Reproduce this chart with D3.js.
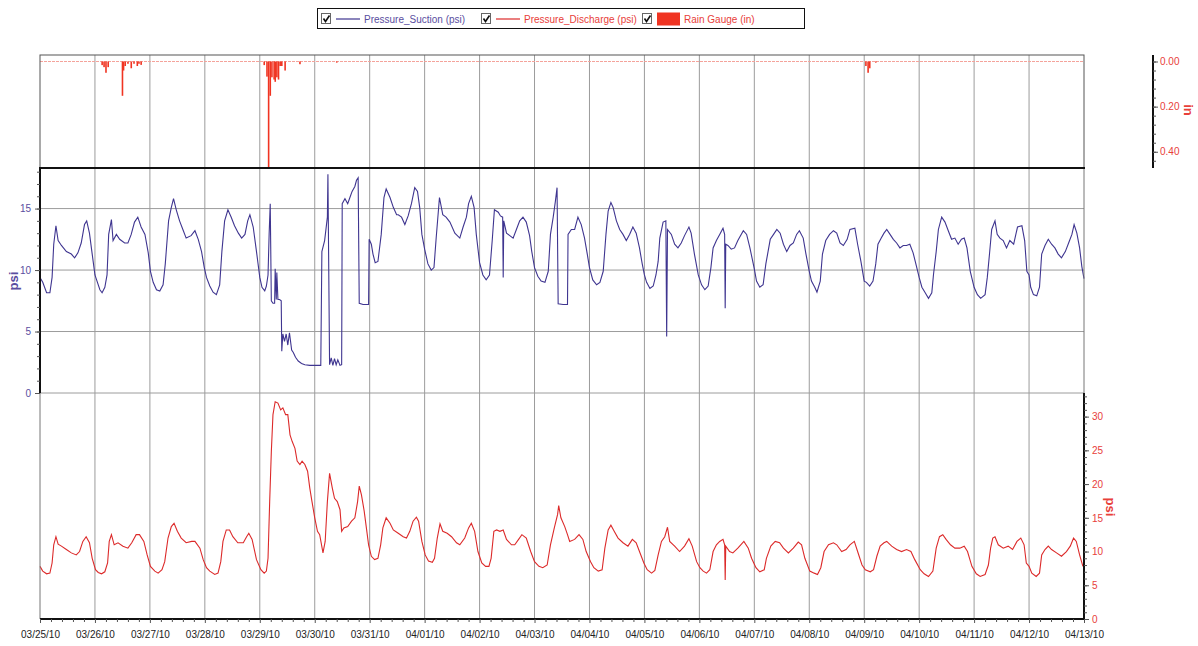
<!DOCTYPE html>
<html>
<head>
<meta charset="utf-8">
<script src="https://cdnjs.cloudflare.com/ajax/libs/d3/7.8.5/d3.min.js"></script>
<style>
  body { margin: 0; background: #fff; }
  svg { display: block; font-family: "Liberation Sans", Arial, sans-serif; }
</style>
</head>
<body>
<div id="chart"></div>
<script>
// Pump station pressures + rain gauge, 03/25/10 - 04/13/10
(function() {
  'use strict';

  // time is in days since 03/25/10 00:00
  var startDate = new Date(2010, 2, 25);
  var endDate = new Date(2010, 3, 13);

  var suction = [
    [0.00,9.4],[0.05,9.0],[0.12,8.15],[0.18,8.15],[0.22,9.4],[0.25,12.1],[0.29,13.6],[0.33,12.4],[0.39,12.0],[0.48,11.5],[0.57,11.3],[0.63,11.0],[0.69,11.4],[0.75,12.2],[0.81,13.7],[0.85,14.0],[0.90,13.0],[0.95,11.3],[1.00,9.6],
    [1.03,9.2],[1.09,8.4],[1.13,8.15],[1.18,8.6],[1.22,9.6],[1.25,12.9],[1.30,14.1],[1.33,12.4],[1.39,12.9],[1.45,12.5],[1.54,12.2],[1.60,12.2],[1.66,12.9],[1.72,13.9],[1.78,14.3],[1.84,13.5],[1.91,12.9],[1.97,11.4],[2.01,9.9],
    [2.06,9.0],[2.12,8.4],[2.18,8.3],[2.24,8.8],[2.28,10.5],[2.34,14.0],[2.39,15.1],[2.43,15.8],[2.48,14.9],[2.54,14.0],[2.60,13.3],[2.66,12.6],[2.75,12.8],[2.82,13.2],[2.88,12.5],[2.94,11.5],[2.99,10.2],
    [3.03,9.4],[3.09,8.7],[3.15,8.2],[3.21,8.0],[3.27,8.8],[3.31,11.5],[3.36,14.0],[3.42,14.9],[3.48,14.3],[3.54,13.6],[3.61,13.0],[3.67,12.6],[3.73,12.9],[3.78,14.0],[3.82,14.5],[3.88,13.5],[3.94,11.5],[4.00,9.4],
    [4.04,8.6],[4.09,8.3],[4.12,8.7],[4.15,9.6],[4.17,12.9],[4.19,15.4],[4.21,7.5],[4.24,7.3],[4.27,7.3],[4.28,10.1],[4.30,7.6],[4.31,9.8],[4.33,7.6],[4.36,7.6],[4.39,7.5],[4.40,3.4],[4.42,4.8],[4.45,4.2],[4.48,4.8],[4.51,3.9],[4.54,4.9],[4.58,3.5],[4.61,3.3],[4.65,2.9],[4.70,2.6],[4.76,2.4],[4.82,2.3],[4.91,2.25],[5.01,2.25],
    [5.11,2.25],[5.13,11.5],[5.18,12.4],[5.23,14.3],[5.24,17.8],[5.27,2.3],[5.30,2.85],[5.33,2.25],[5.36,2.8],[5.39,2.3],[5.42,2.7],[5.46,2.25],[5.49,2.3],[5.50,15.4],[5.55,15.8],[5.60,15.4],[5.64,15.9],[5.68,16.4],[5.73,16.8],[5.76,17.3],[5.79,17.5],[5.81,7.3],[5.88,7.2],[5.98,7.2],[5.99,12.5],
    [6.03,12.1],[6.06,11.3],[6.10,10.6],[6.15,10.7],[6.21,12.9],[6.26,15.9],[6.30,16.6],[6.37,15.9],[6.43,15.1],[6.49,14.5],[6.52,14.5],[6.58,14.3],[6.64,13.7],[6.70,14.4],[6.76,15.4],[6.82,16.7],[6.87,16.4],[6.91,15.1],[6.95,12.9],[7.00,11.7],
    [7.06,10.5],[7.12,10.0],[7.17,10.2],[7.21,12.6],[7.27,15.9],[7.33,14.5],[7.39,14.3],[7.46,13.9],[7.55,13.0],[7.64,12.6],[7.70,13.5],[7.76,14.3],[7.80,15.4],[7.85,16.0],[7.90,15.1],[7.94,12.9],[8.00,10.6],
    [8.06,9.6],[8.12,9.2],[8.18,9.6],[8.23,12.4],[8.27,14.9],[8.34,14.7],[8.38,14.4],[8.42,14.3],[8.43,9.4],[8.44,14.0],[8.49,13.0],[8.55,12.8],[8.61,12.6],[8.67,13.3],[8.73,14.0],[8.79,14.3],[8.85,13.9],[8.91,12.8],[8.95,11.5],[9.00,10.2],
    [9.06,9.5],[9.12,9.1],[9.19,9.0],[9.25,9.9],[9.29,12.9],[9.34,14.3],[9.38,15.6],[9.41,16.7],[9.43,7.25],[9.52,7.2],[9.60,7.2],[9.61,12.9],[9.67,13.3],[9.73,13.3],[9.79,14.3],[9.85,13.7],[9.91,12.6],[9.96,11.3],[10.00,10.2],
    [10.06,9.2],[10.13,8.8],[10.19,9.0],[10.25,9.9],[10.30,12.9],[10.34,14.8],[10.39,15.5],[10.43,15.1],[10.49,14.0],[10.55,13.3],[10.61,12.9],[10.67,12.4],[10.73,12.9],[10.79,13.5],[10.85,13.0],[10.91,11.8],[10.96,10.5],[11.00,9.6],
    [11.04,9.0],[11.10,8.5],[11.16,8.7],[11.21,9.6],[11.25,10.7],[11.28,12.6],[11.34,13.9],[11.39,14.0],[11.405,4.6],[11.42,13.3],[11.49,12.9],[11.55,12.1],[11.61,11.8],[11.67,12.2],[11.73,12.8],[11.81,13.5],[11.85,13.0],[11.91,11.3],[11.98,9.6],
    [12.04,8.8],[12.10,8.4],[12.16,8.7],[12.21,10.2],[12.25,11.8],[12.31,12.4],[12.37,12.9],[12.43,13.4],[12.46,12.9],[12.47,6.9],[12.48,12.1],[12.52,12.0],[12.58,11.7],[12.64,11.8],[12.70,12.4],[12.80,13.2],[12.86,12.9],[12.92,11.8],[13.00,10.1],
    [13.04,9.1],[13.10,8.6],[13.16,8.8],[13.21,10.5],[13.29,12.5],[13.35,12.9],[13.41,13.3],[13.47,13.0],[13.53,12.1],[13.59,11.5],[13.65,12.0],[13.71,12.2],[13.77,12.9],[13.82,13.2],[13.89,12.6],[13.94,11.3],[14.00,9.9],
    [14.04,9.1],[14.10,8.6],[14.14,8.2],[14.20,9.1],[14.24,11.3],[14.30,12.4],[14.37,12.9],[14.44,13.2],[14.50,13.0],[14.56,12.2],[14.62,12.0],[14.69,12.5],[14.74,13.3],[14.83,13.4],[14.88,12.1],[14.94,10.7],[15.00,9.1],
    [15.04,9.0],[15.10,8.7],[15.16,9.1],[15.21,10.5],[15.25,12.1],[15.31,12.6],[15.36,13.0],[15.41,13.3],[15.47,12.9],[15.53,12.5],[15.59,12.2],[15.65,11.8],[15.71,12.0],[15.77,12.0],[15.83,12.1],[15.89,11.4],[15.94,10.5],[16.00,9.4],
    [16.05,8.6],[16.11,8.15],[16.17,7.7],[16.23,8.15],[16.26,9.6],[16.31,11.5],[16.35,13.3],[16.41,14.3],[16.47,13.9],[16.53,13.2],[16.59,12.5],[16.65,12.6],[16.71,12.1],[16.77,12.5],[16.82,12.6],[16.87,11.8],[16.93,9.9],[17.00,8.6],
    [17.06,8.0],[17.12,7.7],[17.20,8.0],[17.24,9.4],[17.28,11.3],[17.32,13.3],[17.38,14.0],[17.42,12.9],[17.47,12.6],[17.53,12.4],[17.59,11.8],[17.65,12.4],[17.72,12.1],[17.79,13.5],[17.87,13.6],[17.92,12.4],[17.96,9.9],[18.00,9.6],
    [18.03,8.6],[18.08,8.0],[18.14,7.9],[18.19,8.6],[18.23,11.3],[18.29,12.0],[18.35,12.5],[18.41,12.1],[18.47,11.8],[18.53,11.3],[18.59,11.0],[18.66,11.5],[18.72,12.2],[18.78,12.9],[18.82,13.7],[18.87,13.0],[18.92,11.8],[18.96,10.3],[19.00,9.3]
  ];

  var discharge = [
    [0.00,7.8],[0.05,7.1],[0.12,6.7],[0.18,6.8],[0.22,8.3],[0.25,11.0],[0.29,12.2],[0.33,11.1],[0.39,10.8],[0.48,10.3],[0.57,9.8],[0.66,9.5],[0.72,10.0],[0.78,11.5],[0.84,12.2],[0.90,11.3],[0.95,9.0],[1.01,7.3],
    [1.06,6.9],[1.12,6.7],[1.18,7.0],[1.23,8.3],[1.26,11.5],[1.30,12.5],[1.35,11.0],[1.42,11.3],[1.51,10.8],[1.60,10.5],[1.67,11.3],[1.75,12.5],[1.81,12.5],[1.89,11.5],[1.95,9.5],[2.01,7.8],
    [2.09,7.1],[2.15,6.8],[2.22,7.3],[2.27,8.5],[2.33,12.0],[2.39,13.7],[2.44,14.2],[2.50,13.0],[2.57,12.0],[2.66,11.3],[2.76,11.5],[2.82,11.5],[2.91,10.5],[2.97,8.8],[3.03,7.6],
    [3.09,7.1],[3.18,6.6],[3.24,6.8],[3.29,8.5],[3.33,11.5],[3.39,13.2],[3.45,13.2],[3.51,12.2],[3.60,11.3],[3.70,11.3],[3.76,12.2],[3.80,12.7],[3.86,11.8],[3.94,8.8],[4.02,7.3],
    [4.08,6.8],[4.12,7.1],[4.15,9.0],[4.18,17.4],[4.21,24.8],[4.24,30.3],[4.28,32.2],[4.33,32.0],[4.38,31.0],[4.42,31.3],[4.47,30.3],[4.51,30.3],[4.55,27.3],[4.59,26.3],[4.64,25.3],[4.68,23.4],[4.73,22.9],[4.77,23.4],[4.82,22.9],[4.87,21.9],[4.91,19.4],[4.95,17.4],[5.00,15.0],
    [5.05,13.0],[5.09,12.5],[5.15,9.8],[5.19,11.5],[5.23,17.4],[5.27,21.6],[5.32,19.4],[5.36,17.9],[5.41,17.4],[5.46,16.2],[5.49,13.0],[5.53,13.5],[5.60,13.7],[5.67,14.5],[5.73,15.0],[5.78,17.4],[5.81,19.7],[5.85,18.4],[5.90,16.0],[5.94,13.5],[5.98,11.0],[6.03,9.3],
    [6.09,8.8],[6.15,9.0],[6.20,11.0],[6.24,13.5],[6.30,15.0],[6.37,14.2],[6.43,13.2],[6.52,12.7],[6.61,12.2],[6.67,12.0],[6.73,13.0],[6.79,14.5],[6.85,15.1],[6.89,14.5],[6.95,11.5],[7.01,9.5],
    [7.07,8.6],[7.14,8.4],[7.18,9.0],[7.23,12.0],[7.28,14.1],[7.33,13.0],[7.41,12.7],[7.49,12.2],[7.58,11.3],[7.64,11.0],[7.73,12.0],[7.80,13.5],[7.85,14.2],[7.91,13.0],[7.97,10.0],[8.04,8.3],
    [8.11,7.8],[8.17,7.8],[8.21,9.0],[8.26,13.0],[8.31,13.2],[8.37,13.0],[8.43,13.2],[8.49,11.8],[8.58,11.0],[8.64,11.0],[8.71,11.8],[8.77,12.5],[8.85,12.0],[8.93,10.0],[9.00,8.5],
    [9.08,7.8],[9.15,7.6],[9.23,8.0],[9.29,11.0],[9.36,13.5],[9.42,15.5],[9.44,16.8],[9.48,15.0],[9.55,13.7],[9.60,12.5],[9.64,11.5],[9.73,11.8],[9.81,12.5],[9.88,11.8],[9.94,10.0],[10.02,8.5],
    [10.08,7.6],[10.16,7.1],[10.23,7.3],[10.28,10.5],[10.34,13.2],[10.39,13.9],[10.45,13.0],[10.52,12.0],[10.61,11.3],[10.70,10.8],[10.78,11.8],[10.85,11.3],[10.91,10.0],[10.99,8.3],
    [11.05,7.3],[11.13,6.8],[11.19,7.2],[11.25,9.5],[11.31,11.5],[11.37,12.2],[11.42,13.6],[11.46,11.5],[11.55,10.8],[11.64,10.0],[11.73,10.8],[11.81,11.9],[11.87,10.8],[11.95,8.5],[12.01,7.6],
    [12.07,7.1],[12.13,6.8],[12.19,7.3],[12.25,10.0],[12.31,11.0],[12.37,11.5],[12.43,11.8],[12.46,11.0],[12.47,5.8],[12.48,10.8],[12.55,10.0],[12.61,9.8],[12.70,10.5],[12.81,11.5],[12.89,10.5],[12.95,9.0],[13.03,7.6],
    [13.10,7.0],[13.18,7.3],[13.22,9.0],[13.30,10.8],[13.38,11.5],[13.46,11.3],[13.53,10.5],[13.62,9.8],[13.71,10.5],[13.80,11.4],[13.86,11.0],[13.92,9.0],[14.01,7.1],
    [14.09,6.8],[14.15,6.6],[14.21,7.6],[14.27,10.0],[14.35,11.0],[14.44,11.3],[14.50,11.0],[14.59,10.0],[14.67,10.3],[14.74,11.0],[14.82,11.5],[14.88,10.0],[14.96,8.0],[15.02,7.3],
    [15.11,7.0],[15.17,7.3],[15.23,9.3],[15.29,10.8],[15.36,11.3],[15.41,11.5],[15.50,10.8],[15.59,10.3],[15.68,10.0],[15.77,10.3],[15.85,10.0],[15.92,8.8],[16.02,7.3],
    [16.09,6.7],[16.17,6.3],[16.25,7.1],[16.31,10.5],[16.37,12.2],[16.43,12.5],[16.49,11.8],[16.57,11.0],[16.65,10.5],[16.74,10.5],[16.82,10.8],[16.88,10.0],[16.96,7.8],[17.04,6.7],
    [17.11,6.3],[17.20,6.6],[17.26,8.0],[17.30,10.5],[17.34,12.0],[17.38,12.2],[17.44,11.0],[17.53,10.5],[17.62,10.8],[17.70,10.3],[17.78,11.5],[17.85,12.0],[17.91,11.0],[17.95,8.3],[18.00,7.8],
    [18.05,6.8],[18.13,6.3],[18.19,6.8],[18.23,9.5],[18.29,10.3],[18.35,10.8],[18.41,10.3],[18.50,9.8],[18.59,9.3],[18.68,10.0],[18.75,10.8],[18.81,12.0],[18.86,11.5],[18.92,9.5],[18.98,7.8]
  ];

  var rain = [
    [1.13,0.016],[1.165,0.025],[1.20,0.05],[1.24,0.025],[1.50,0.152],[1.52,0.04],[1.55,0.02],[1.60,0.01],[1.66,0.03],[1.71,0.01],[1.77,0.02],[1.80,0.01],[1.84,0.015],
    [4.08,0.016],[4.13,0.067],[4.16,0.47],[4.19,0.152],[4.22,0.07],[4.26,0.08],[4.28,0.09],[4.31,0.07],[4.34,0.08],[4.37,0.02],[4.40,0.02],[4.46,0.04],[4.73,0.012],[5.40,0.005],
    [15.03,0.02],[15.07,0.05],[15.10,0.03],[15.21,0.005]
  ];

  var suctionTicks = [0, 5, 10, 15];
  var dischargeTicks = [0, 5, 10, 15, 20, 25, 30];
  var rainTicks = [0, 0.2, 0.4];

  var colSuction = '#3f3590', colDischarge = '#dc2a2a', colRain = '#f03422';
  var txtSuction = '#5a4ea0', txtRed = '#e8403a';

  var W = 1198, H = 646;
  var left = 40, right = 1084;
  var rainTop = 55, mainTop = 168, midY = 393, bottom = 619;

  var svg = d3.select('#chart').append('svg').attr('width', W).attr('height', H);

  function toDate(t) { return new Date(startDate.getTime() + t * 864e5); }

  var x = d3.scaleTime().domain([startDate, endDate]).range([left, right]);
  var yRain = d3.scaleLinear().domain([0, 0.472]).range([61.5, mainTop]);
  var ySuc = d3.scaleLinear().domain([0, 18.3]).range([midY, mainTop]);
  var yDis = d3.scaleLinear().domain([0, 33.5]).range([bottom, midY]);

  var days = d3.timeDay.range(startDate, d3.timeDay.offset(endDate, 1));
  var minorDays = [];
  days.slice(0, -1).forEach(function(d) {
    for (var k = 1; k < 5; k++) minorDays.push(new Date(d.getTime() + k * 0.2 * 864e5));
  });

  // grid
  var grid = svg.append('g');
  grid.selectAll('.vg').data(days.slice(1, -1)).enter().append('line')
    .attr('x1', function(d) { return x(d); }).attr('x2', function(d) { return x(d); })
    .attr('y1', rainTop).attr('y2', bottom)
    .attr('stroke', '#9c9c9c').attr('stroke-width', 1);
  grid.selectAll('.hg').data(suctionTicks).enter().append('line')
    .attr('x1', left).attr('x2', right)
    .attr('y1', function(d) { return ySuc(d); }).attr('y2', function(d) { return ySuc(d); })
    .attr('stroke', '#9c9c9c').attr('stroke-width', 1);

  // rain zero line (faint red)
  svg.append('line').attr('x1', left).attr('x2', right).attr('y1', yRain(0)).attr('y2', yRain(0))
    .attr('stroke', '#f4a39b').attr('stroke-width', 1).attr('stroke-dasharray', '3,1');

  // rain bars
  svg.selectAll('.rain').data(rain).enter().append('rect')
    .attr('x', function(d) { return x(toDate(d[0])) - 0.75; })
    .attr('width', 1.6)
    .attr('y', yRain(0))
    .attr('height', function(d) { return yRain(d[1]) - yRain(0); })
    .attr('fill', colRain);

  // lines
  var lineSuc = d3.line().x(function(d) { return x(toDate(d[0])); }).y(function(d) { return ySuc(d[1]); });
  var lineDis = d3.line().x(function(d) { return x(toDate(d[0])); }).y(function(d) { return yDis(d[1]); });
  svg.append('path').datum(suction).attr('d', lineSuc).attr('fill', 'none')
    .attr('stroke', colSuction).attr('stroke-width', 1.1);
  svg.append('path').datum(discharge).attr('d', lineDis).attr('fill', 'none')
    .attr('stroke', colDischarge).attr('stroke-width', 1.1);

  // frame
  svg.append('rect').attr('x', left).attr('y', rainTop).attr('width', right - left).attr('height', mainTop - rainTop)
    .attr('fill', 'none').attr('stroke', '#555').attr('stroke-width', 1);
  svg.append('line').attr('x1', right).attr('x2', right).attr('y1', mainTop).attr('y2', midY)
    .attr('stroke', '#777').attr('stroke-width', 1);
  svg.append('line').attr('x1', left).attr('x2', left).attr('y1', midY).attr('y2', bottom)
    .attr('stroke', '#777').attr('stroke-width', 1);
  svg.append('line').attr('x1', left - 1).attr('x2', right + 1).attr('y1', mainTop).attr('y2', mainTop)
    .attr('stroke', '#111').attr('stroke-width', 2);
  svg.append('line').attr('x1', left).attr('x2', left).attr('y1', mainTop).attr('y2', midY)
    .attr('stroke', '#111').attr('stroke-width', 2);
  svg.append('line').attr('x1', right).attr('x2', right).attr('y1', midY).attr('y2', bottom)
    .attr('stroke', '#111').attr('stroke-width', 2);
  svg.append('line').attr('x1', left).attr('x2', right + 1).attr('y1', bottom).attr('y2', bottom)
    .attr('stroke', '#111').attr('stroke-width', 2);

  function styleAxis(g, color) {
    g.select('.domain').remove();
    g.selectAll('.tick line').attr('stroke', '#555');
    g.selectAll('.tick text').attr('fill', color).attr('font-size', '10px')
      .attr('font-family', '"Liberation Sans", Arial, sans-serif');
  }

  // x axis
  var gx = svg.append('g').attr('transform', 'translate(0,' + bottom + ')')
    .call(d3.axisBottom(x).tickValues(days).tickSize(4).tickPadding(8).tickFormat(d3.timeFormat('%m/%d/%y')));
  styleAxis(gx, '#222');
  var gxm = svg.append('g').attr('transform', 'translate(0,' + bottom + ')')
    .call(d3.axisBottom(x).tickValues(minorDays).tickSize(3).tickFormat(''));
  styleAxis(gxm, '#222');

  // suction axis (left)
  var gs = svg.append('g').attr('transform', 'translate(' + left + ',0)')
    .call(d3.axisLeft(ySuc).tickValues(suctionTicks).tickSize(5).tickPadding(4));
  styleAxis(gs, txtSuction);
  var gsm = svg.append('g').attr('transform', 'translate(' + left + ',0)')
    .call(d3.axisLeft(ySuc).tickValues(d3.range(0, 19)).tickSize(3).tickFormat(''));
  styleAxis(gsm, txtSuction);
  svg.append('text').attr('transform', 'translate(18,' + 281 + ') rotate(-90)')
    .attr('text-anchor', 'middle').attr('font-size', '13px').attr('font-weight', 'bold')
    .attr('fill', txtSuction).text('psi');

  // discharge axis (right)
  var gd = svg.append('g').attr('transform', 'translate(' + right + ',0)')
    .call(d3.axisRight(yDis).tickValues(dischargeTicks).tickSize(5).tickPadding(3));
  styleAxis(gd, txtRed);
  var gdm = svg.append('g').attr('transform', 'translate(' + right + ',0)')
    .call(d3.axisRight(yDis).tickValues(d3.range(0, 34)).tickSize(3).tickFormat(''));
  styleAxis(gdm, txtRed);
  svg.append('text').attr('transform', 'translate(1106,' + 507 + ') rotate(90)')
    .attr('text-anchor', 'middle').attr('font-size', '13px').attr('font-weight', 'bold')
    .attr('fill', txtRed).text('psi');

  // rain axis (detached, right)
  var rainAxisX = 1153;
  svg.append('line').attr('x1', rainAxisX).attr('x2', rainAxisX).attr('y1', rainTop).attr('y2', mainTop)
    .attr('stroke', '#111').attr('stroke-width', 2);
  var gr = svg.append('g').attr('transform', 'translate(' + rainAxisX + ',0)')
    .call(d3.axisRight(yRain).tickValues(rainTicks).tickSize(5).tickPadding(2).tickFormat(d3.format('.2f')));
  styleAxis(gr, txtRed);
  var grm = svg.append('g').attr('transform', 'translate(' + rainAxisX + ',0)')
    .call(d3.axisRight(yRain).tickValues(d3.range(0, 0.47, 0.04)).tickSize(3).tickFormat(''));
  styleAxis(grm, txtRed);
  svg.append('text').attr('transform', 'translate(1184,' + 110 + ') rotate(90)')
    .attr('text-anchor', 'middle').attr('font-size', '13px').attr('font-weight', 'bold')
    .attr('fill', txtRed).text('in');

  // legend
  var legend = svg.append('g');
  legend.append('rect').attr('x', 317.5).attr('y', 8.5).attr('width', 487).attr('height', 20)
    .attr('fill', '#fff').attr('stroke', '#111').attr('stroke-width', 1);
  var items = [
    { cb: 321, label: 'Pressure_Suction (psi)', color: colSuction, text: txtSuction, kind: 'line', sx: 336, tx: 364 },
    { cb: 481, label: 'Pressure_Discharge (psi)', color: colDischarge, text: txtRed, kind: 'line', sx: 496, tx: 524 },
    { cb: 642, label: 'Rain Gauge (in)', color: colRain, text: txtRed, kind: 'rect', sx: 657, tx: 684 }
  ];
  items.forEach(function(it) {
    legend.append('rect').attr('x', it.cb + 0.5).attr('y', 13.5).attr('width', 9).attr('height', 10)
      .attr('fill', '#fff').attr('stroke', '#666');
    legend.append('path').attr('d', 'M' + (it.cb + 2.5) + ',18.5 l2,3 l4,-6')
      .attr('fill', 'none').attr('stroke', '#111').attr('stroke-width', 1.6);
    if (it.kind === 'line') {
      legend.append('line').attr('x1', it.sx).attr('x2', it.sx + 24).attr('y1', 19).attr('y2', 19)
        .attr('stroke', it.color).attr('stroke-width', 1.2);
    } else {
      legend.append('rect').attr('x', it.sx).attr('y', 12.5).attr('width', 23).attr('height', 13)
        .attr('fill', it.color);
    }
    legend.append('text').attr('x', it.tx).attr('y', 22.5).attr('font-size', '10px')
      .attr('fill', it.text).text(it.label);
  });
})();
</script>
</body>
</html>
